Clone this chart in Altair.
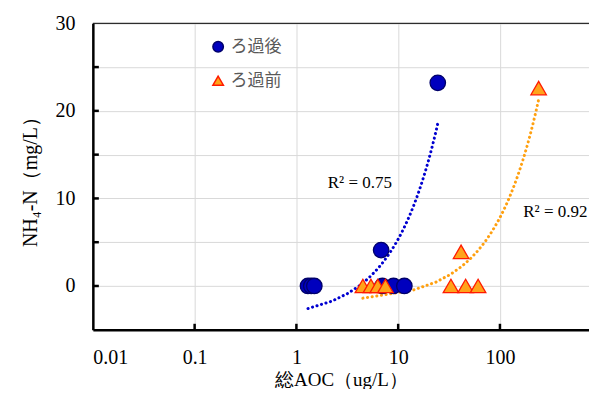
import altair as alt
import pandas as pd

# ---- data ----
series_names = ["ろ過後", "ろ過前"]
after_x = [1.3, 1.4, 1.5, 6.8, 7.0, 9.0, 11.5, 24.5]
after_y = [0, 0, 0, 4.1, 0, 0, 0, 23.2]
before_x = [4.5, 5.4, 6.3, 7.5, 33, 41.5, 46, 61, 240]
before_y = [0, 0, 0, 0, 0, 3.9, 0, 0, 22.6]
r2_labels = ["R² = 0.75", "R² = 0.92"]
r2_x = [4.2, 350]
r2_y = [11.8, 8.5]
x_ticks = [0.01, 0.1, 1, 10, 100]
y_ticks = [-5, 0, 5, 10, 15, 20, 25, 30]

df = pd.DataFrame({
    "x": after_x + before_x,
    "y": after_y + before_y,
    "s": [series_names[0]] * len(after_x) + [series_names[1]] * len(before_x),
})

W, H = 497, 307
xs = alt.Scale(type="log", domain=[0.01, 750], nice=False)
ys = alt.Scale(domain=[-5, 30], nice=False)
SERIF = "Liberation Serif"

x_axis = alt.Axis(values=x_ticks, format="~g", labelFont=SERIF, labelFontSize=20,
                  labelColor="black", labelPadding=18, ticks=False, labelFlush=True,
                  domainColor="black", domainWidth=2.5, gridColor="#D9D9D9", gridWidth=1,
                  titleFont=SERIF, titleFontSize=19, titleFontWeight="normal",
                  titleColor="black", titlePadding=3)
y_axis = alt.Axis(values=y_ticks, labelExpr="datum.value % 10 == 0 ? datum.label : ''",
                  labelFont=SERIF, labelFontSize=20, labelColor="black", labelPadding=18,
                  ticks=False, domainColor="black", domainWidth=2.5, gridColor="#D9D9D9",
                  gridWidth=1, titleFont=SERIF, titleFontSize=20, titleFontWeight="normal",
                  titleColor="black", titlePadding=14)

leg = alt.Legend(title=None, orient="none", legendX=117, legendY=15,
                 labelFont="Noto Sans CJK JP", labelFontSize=17, labelColor="#595959",
                 symbolSize=110, rowPadding=16, labelOffset=4, padding=0)

points = alt.Chart(df).mark_point(filled=True, opacity=1, strokeWidth=1.3, size=240).encode(
    x=alt.X("x:Q", scale=xs, axis=x_axis, title="総AOC（ug/L）"),
    y=alt.Y("y:Q", scale=ys, axis=y_axis, title="NH₄-N（mg/L）"),
    shape=alt.Shape("s:N", scale=alt.Scale(domain=series_names, range=["circle", "triangle-up"]), legend=leg),
    fill=alt.Fill("s:N", scale=alt.Scale(domain=series_names, range=["#0000BE", "#FFA31A"]), legend=leg),
    stroke=alt.Stroke("s:N", scale=alt.Scale(domain=series_names, range=["#00006A", "#FF1A00"]), legend=leg),
)

def trend(name, color):
    return alt.Chart(df).transform_filter(alt.datum.s == name).transform_regression(
        "x", "y", method="poly", order=1
    ).mark_line(color=color, strokeDash=[0.1, 4.6], strokeWidth=3, strokeCap="round").encode(
        x=alt.X("x:Q", scale=xs), y=alt.Y("y:Q", scale=ys)
    )

trend_after = trend(series_names[0], "#0000D0")
trend_before = trend(series_names[1], "#FFA010")

labels = alt.Chart(pd.DataFrame({"x": r2_x, "y": r2_y, "t": r2_labels})).mark_text(
    font=SERIF, fontSize=17, color="black", align="center", baseline="middle"
).encode(x=alt.X("x:Q", scale=xs), y=alt.Y("y:Q", scale=ys), text="t:N")

xtick = alt.Chart(pd.DataFrame({"x": x_ticks[1:]})).mark_rule(color="black", strokeWidth=2.5).encode(
    x=alt.X("x:Q", scale=xs), y=alt.value(H), y2=alt.value(H - 6))
ytick = alt.Chart(pd.DataFrame({"y": y_ticks[1:-1]})).mark_rule(color="black", strokeWidth=2.5).encode(
    y=alt.Y("y:Q", scale=ys), x=alt.value(0), x2=alt.value(6))
top = alt.Chart(pd.DataFrame({"y": [y_ticks[-1]]})).mark_rule(color="black", strokeWidth=1).encode(
    y=alt.Y("y:Q", scale=ys), x=alt.value(0), x2=alt.value(W))

chart = alt.layer(top, trend_after, trend_before, points, labels, xtick, ytick).properties(
    width=W, height=H, autosize="none",
    padding={"left": 85, "top": 15, "right": 0, "bottom": 59},
).configure_view(stroke=None).configure(background="white")

chart.save("out.html", embed_options={"renderer": "svg", "actions": False})
